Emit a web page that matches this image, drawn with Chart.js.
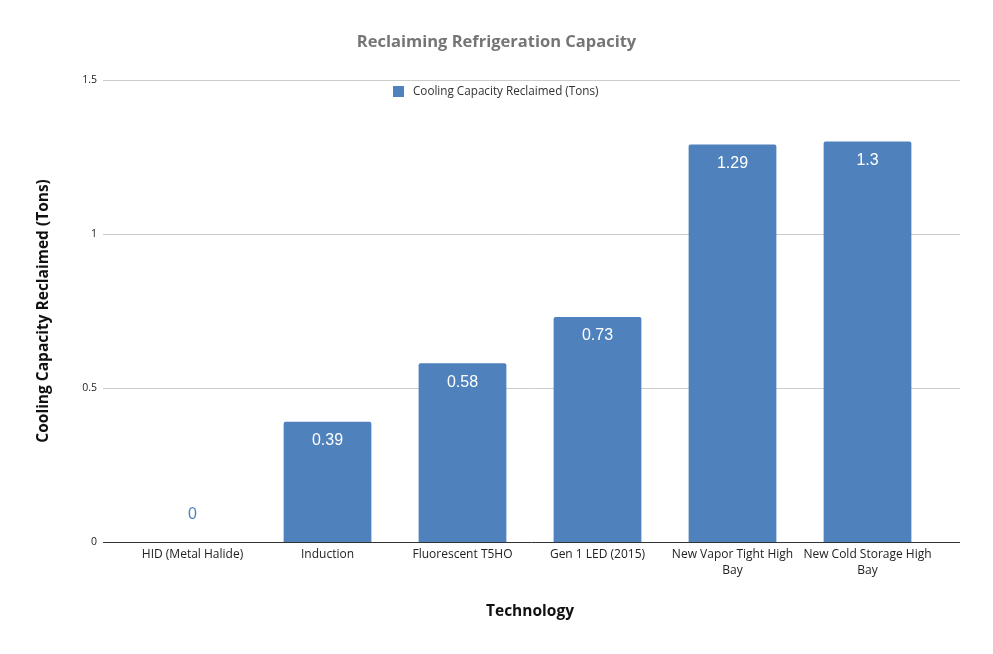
<!DOCTYPE html>
<html>
<head>
<meta charset="utf-8">
<script src="https://cdn.jsdelivr.net/npm/chart.js@4/dist/chart.umd.min.js"></script>
<style>
html,body{margin:0;padding:0;background:#fff;}
#wrap{width:993px;height:654px;position:relative;}
</style>
</head>
<body>
<div id="wrap"><canvas id="c" width="993" height="654"></canvas></div>
<script>
const categories = [
  "HID (Metal Halide)",
  "Induction",
  "Fluorescent T5HO",
  "Gen 1 LED (2015)",
  ["New Vapor Tight High", "Bay"],
  ["New Cold Storage High", "Bay"]
];
const capacityValues = [0, 0.39, 0.58, 0.73, 1.29, 1.3];
const valueLabels = ["0", "0.39", "0.58", "0.73", "1.29", "1.3"];
const seriesName = "Cooling Capacity Reclaimed (Tons)";
const chartTitle = "Reclaiming Refrigeration Capacity";
const xTitle = "Technology";
const yTitle = "Cooling Capacity Reclaimed (Tons)";
const yTicks = [0, 0.5, 1, 1.5];
const yTickLabels = ["0", "0.5", "1", "1.5"];

const BAR = "rgb(79,129,189)";
const FONT = "'Open Sans', Lato, sans-serif";

const gridPlugin = {
  id: "extgrid",
  beforeDatasetsDraw(chart) {
    const y = chart.scales.y, ctx = chart.ctx;
    ctx.save();
    ctx.lineWidth = 1;
    yTicks.forEach(v => {
      const py = Math.round(y.getPixelForValue(v)) + 0.5;
      ctx.strokeStyle = v === 0 ? "#333333" : "#cccccc";
      ctx.beginPath();
      ctx.moveTo(103, py);
      ctx.lineTo(960, py);
      ctx.stroke();
    });
    ctx.restore();
  },
  afterDraw(chart) {
    const ctx = chart.ctx;
    const meta = chart.getDatasetMeta(0);
    const y = chart.scales.y;
    ctx.save();
    ctx.font = "16px 'Liberation Sans', Arial, sans-serif";
    ctx.textAlign = "center";
    ctx.textBaseline = "middle";
    meta.data.forEach((bar, i) => {
      const v = capacityValues[i];
      if (v === 0) {
        ctx.fillStyle = BAR;
        ctx.fillText(valueLabels[i], bar.x, y.getPixelForValue(0) - 27);
      } else {
        ctx.fillStyle = "#ffffff";
        ctx.fillText(valueLabels[i], bar.x, bar.y + 19);
      }
    });
    // legend
    ctx.fillStyle = BAR;
    ctx.fillRect(393, 86, 11, 11);
    ctx.fillStyle = "#333333";
    ctx.font = "11.7px " + FONT;
    ctx.textAlign = "left";
    ctx.fillText(seriesName, 413, 92);
    ctx.restore();
  }
};

new Chart(document.getElementById("c"), {
  type: "bar",
  data: {
    labels: categories,
    datasets: [{
      label: seriesName,
      data: capacityValues,
      backgroundColor: BAR,
      borderRadius: {topLeft: 2, topRight: 2},
      borderSkipped: "bottom",
      barPercentage: 0.65,
      categoryPercentage: 1.0
    }]
  },
  options: {
    responsive: false,
    animation: false,
    events: [],
    layout: { padding: { left: 58, right: 58, top: 0, bottom: 0 } },
    plugins: {
      legend: { display: false },
      tooltip: { enabled: false },
      title: {
        display: true,
        text: chartTitle,
        color: "#757575",
        font: { family: FONT, size: 16.5, weight: "bold" },
        padding: { top: 32, bottom: 28 }
      }
    },
    scales: {
      x: {
        grid: { display: false, drawTicks: false },
        border: { display: false },
        ticks: {
          color: "#222222",
          font: { family: FONT, size: 12, lineHeight: "16px" },
          padding: 5,
          maxRotation: 0,
          autoSkip: false
        },
        title: {
          display: true,
          text: xTitle,
          color: "#111111",
          font: { family: FONT, size: 15.5, weight: "bold" },
          padding: { top: 0, bottom: 33 }
        },
        afterFit(s) { s.height = 112; }
      },
      y: {
        min: 0,
        max: 1.5,
        grid: { display: false, drawTicks: false },
        border: { display: false },
        ticks: {
          stepSize: 0.5,
          color: "#222222",
          font: { family: FONT, size: 10.5 },
          padding: 28,
          callback(value) {
            const i = yTicks.indexOf(value);
            return i >= 0 ? yTickLabels[i] : "";
          }
        },
        title: {
          display: true,
          text: yTitle,
          color: "#111111",
          font: { family: FONT, size: 15.5, weight: "bold" },
          padding: { top: -24, bottom: 0 }
        },
        afterFit(s) { s.width = 67; }
      }
    }
  },
  plugins: [gridPlugin]
});
</script>
</body>
</html>
